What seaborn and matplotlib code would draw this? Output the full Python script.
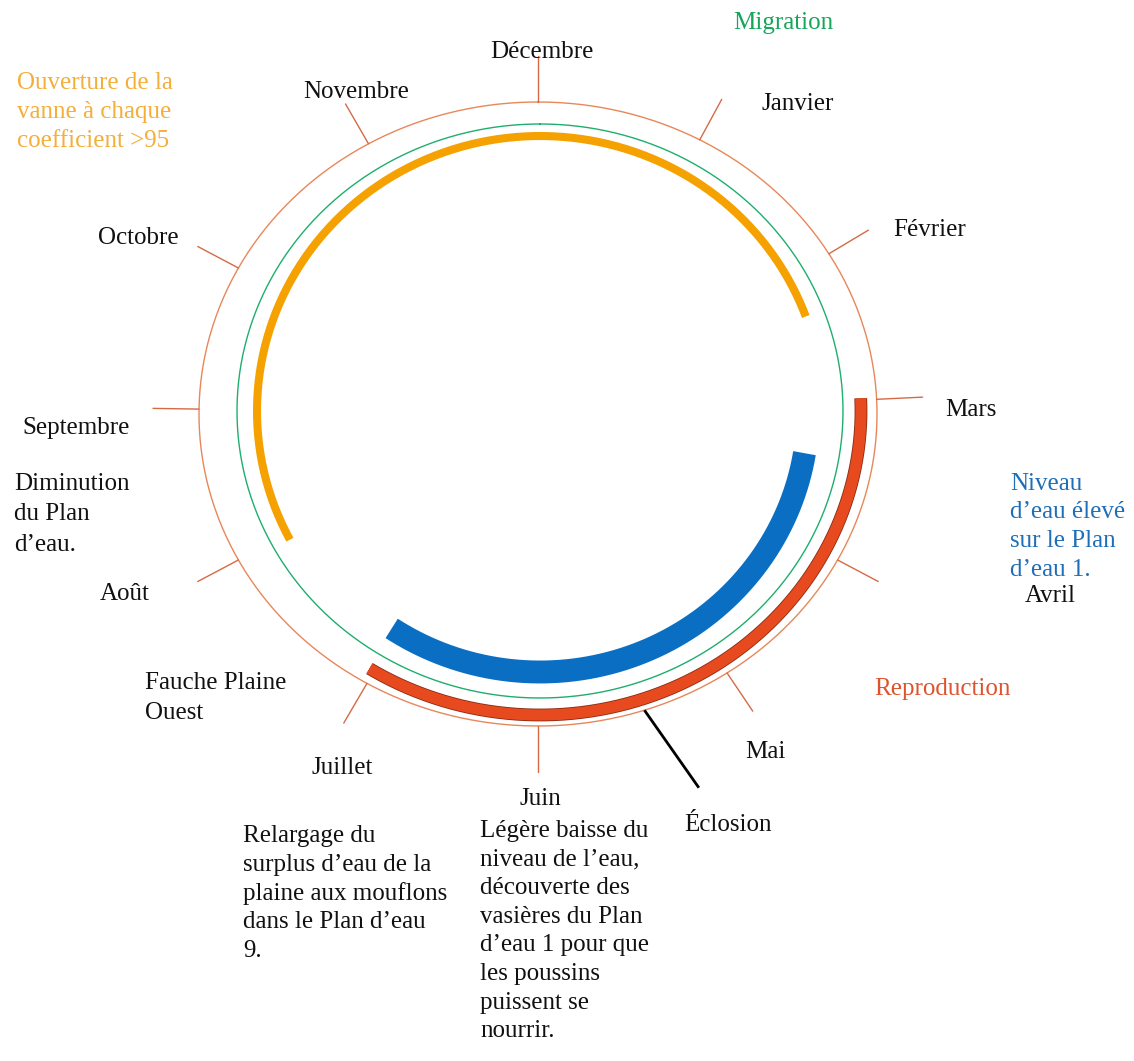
import numpy as np
import matplotlib
matplotlib.use("Agg")
import matplotlib.pyplot as plt
import seaborn as sns

# donnees (mois : Janvier = 1 ... Decembre = 12, position sur le cercle)
mois = ["Janvier", "Février", "Mars", "Avril", "Mai", "Juin", "Juillet",
        "Août", "Septembre", "Octobre", "Novembre", "Décembre"]
pos_traits = [0.95, 1.97, 2.91, 3.93, 4.87, 6.0, 7.01, 8.07, 9.03, 9.93, 11.0, 12.0]

vanne = [8.07, 14.33]          # ouverture de la vanne (aout -> fevrier)
reproduction = [2.92, 7.07]    # mars -> juillet
niveau_eleve = [3.31, 7.12]    # niveau d'eau eleve
eclosion = [5.39, 5.28]

txt_migration = "Migration"
txt_vanne = ["Ouverture de la", "vanne à chaque", "coefficient >95"]
txt_diminution = ["Diminution", "du Plan", "d’eau."]
txt_niveau = ["Niveau", "d’eau élevé", "sur le Plan", "d’eau 1."]
txt_repro = "Reproduction"
txt_fauche = ["Fauche Plaine", "Ouest"]
txt_eclosion = "Éclosion"
txt_relargage = ["Relargage du", "surplus d’eau de la", "plaine aux mouflons",
                 "dans le Plan d’eau", "9."]
txt_baisse = ["Légère baisse du", "niveau de l’eau,", "découverte des",
              "vasières du Plan", "d’eau 1 pour que", "les poussins",
              "puissent se", "nourrir."]

sns.set_theme(style="white")
plt.rcParams["font.family"] = ["Liberation Serif", "DejaVu Serif"]


def ellipse(m, cx, cy, a, b):
    t = np.radians(np.asarray(m, dtype=float) * 30.0)
    return cx + a * np.sin(t), cy - b * np.cos(t)


fig = plt.figure(figsize=(11.34, 10.61), dpi=100)
ax = fig.add_axes([0, 0, 1, 1])
ax.set_xlim(0, 1134)
ax.set_ylim(1061, 0)
ax.axis("off")

tour = np.linspace(0, 12, 600)

# cercle exterieur + traits des mois
x, y = ellipse(tour, 538, 414, 339, 312)
sns.lineplot(x=x, y=y, sort=False, estimator=None, color="#E8875A", linewidth=1.0, ax=ax)
for p in pos_traits:
    x0, y0 = ellipse(p, 538, 414, 339, 312)
    x1, y1 = ellipse(p, 538, 414, 385, 358)
    ax.plot([x0, x1], [y0, y1], color="#D56A45", linewidth=1.0)

# cercle migration
x, y = ellipse(tour, 540, 411, 303, 287)
sns.lineplot(x=x, y=y, sort=False, estimator=None, color="#1EAE6E", linewidth=1.0, ax=ax)

# vanne
m = np.linspace(vanne[0], vanne[1], 300)
x, y = ellipse(m, 540, 411, 283, 275)
sns.lineplot(x=x, y=y, sort=False, estimator=None, color="#F5A100", linewidth=5.8,
             solid_capstyle="butt", ax=ax)

# reproduction
m = np.linspace(reproduction[0], reproduction[1], 300)
x, y = ellipse(m, 540, 411, 321, 304)
sns.lineplot(x=x, y=y, sort=False, estimator=None, color="#8A2A12", linewidth=9.2,
             solid_capstyle="butt", ax=ax)
sns.lineplot(x=x, y=y, sort=False, estimator=None, color="#E64A1E", linewidth=8.0,
             solid_capstyle="butt", ax=ax)

# niveau d'eau eleve
m = np.linspace(niveau_eleve[0], niveau_eleve[1], 300)
x, y = ellipse(m, 540, 411, 268, 261)
sns.lineplot(x=x, y=y, sort=False, estimator=None, color="#0A6FC2", linewidth=16.5,
             solid_capstyle="butt", ax=ax)

# eclosion
x0, y0 = ellipse(eclosion[0], 538, 414, 339, 312)
x1, y1 = ellipse(eclosion[1], 538, 414, 437, 402)
ax.plot([x0, x1], [y0, y1], color="black", linewidth=2.0, solid_capstyle="butt")

# textes
fs = 18
noir = "#111111"
pos_mois = [(762, 110), (893, 236), (945, 416), (1025, 602), (745, 758), (520, 805),
            (312, 774), (100, 600), (22, 434), (98, 244), (303, 98), (490, 58)]
for nom, (tx, ty) in zip(mois, pos_mois):
    ax.text(tx, ty, nom, fontsize=fs, color=noir, ha="left", va="baseline")


def bloc(lignes, tx, ty, pas, couleur):
    for i, l in enumerate(lignes):
        ax.text(tx, ty + i * pas, l, fontsize=fs, color=couleur, ha="left", va="baseline")


ax.text(733, 29, txt_migration, fontsize=fs, color="#15A65A", ha="left", va="baseline")
bloc(txt_vanne, 17, 89, 29, "#F4AE3A")
bloc(txt_diminution, 14, 490, 30.5, noir)
bloc(txt_niveau, 1010, 490, 28.5, "#1F6FB8")
ax.text(874, 695, txt_repro, fontsize=fs, color="#E0522E", ha="left", va="baseline")
bloc(txt_fauche, 145, 689, 30, noir)
ax.text(684, 831, txt_eclosion, fontsize=fs, color=noir, ha="left", va="baseline")
bloc(txt_relargage, 243, 842, 28.8, noir)
bloc(txt_baisse, 480, 837, 28.6, noir)

fig.savefig("out.png", dpi=100, facecolor="white")
